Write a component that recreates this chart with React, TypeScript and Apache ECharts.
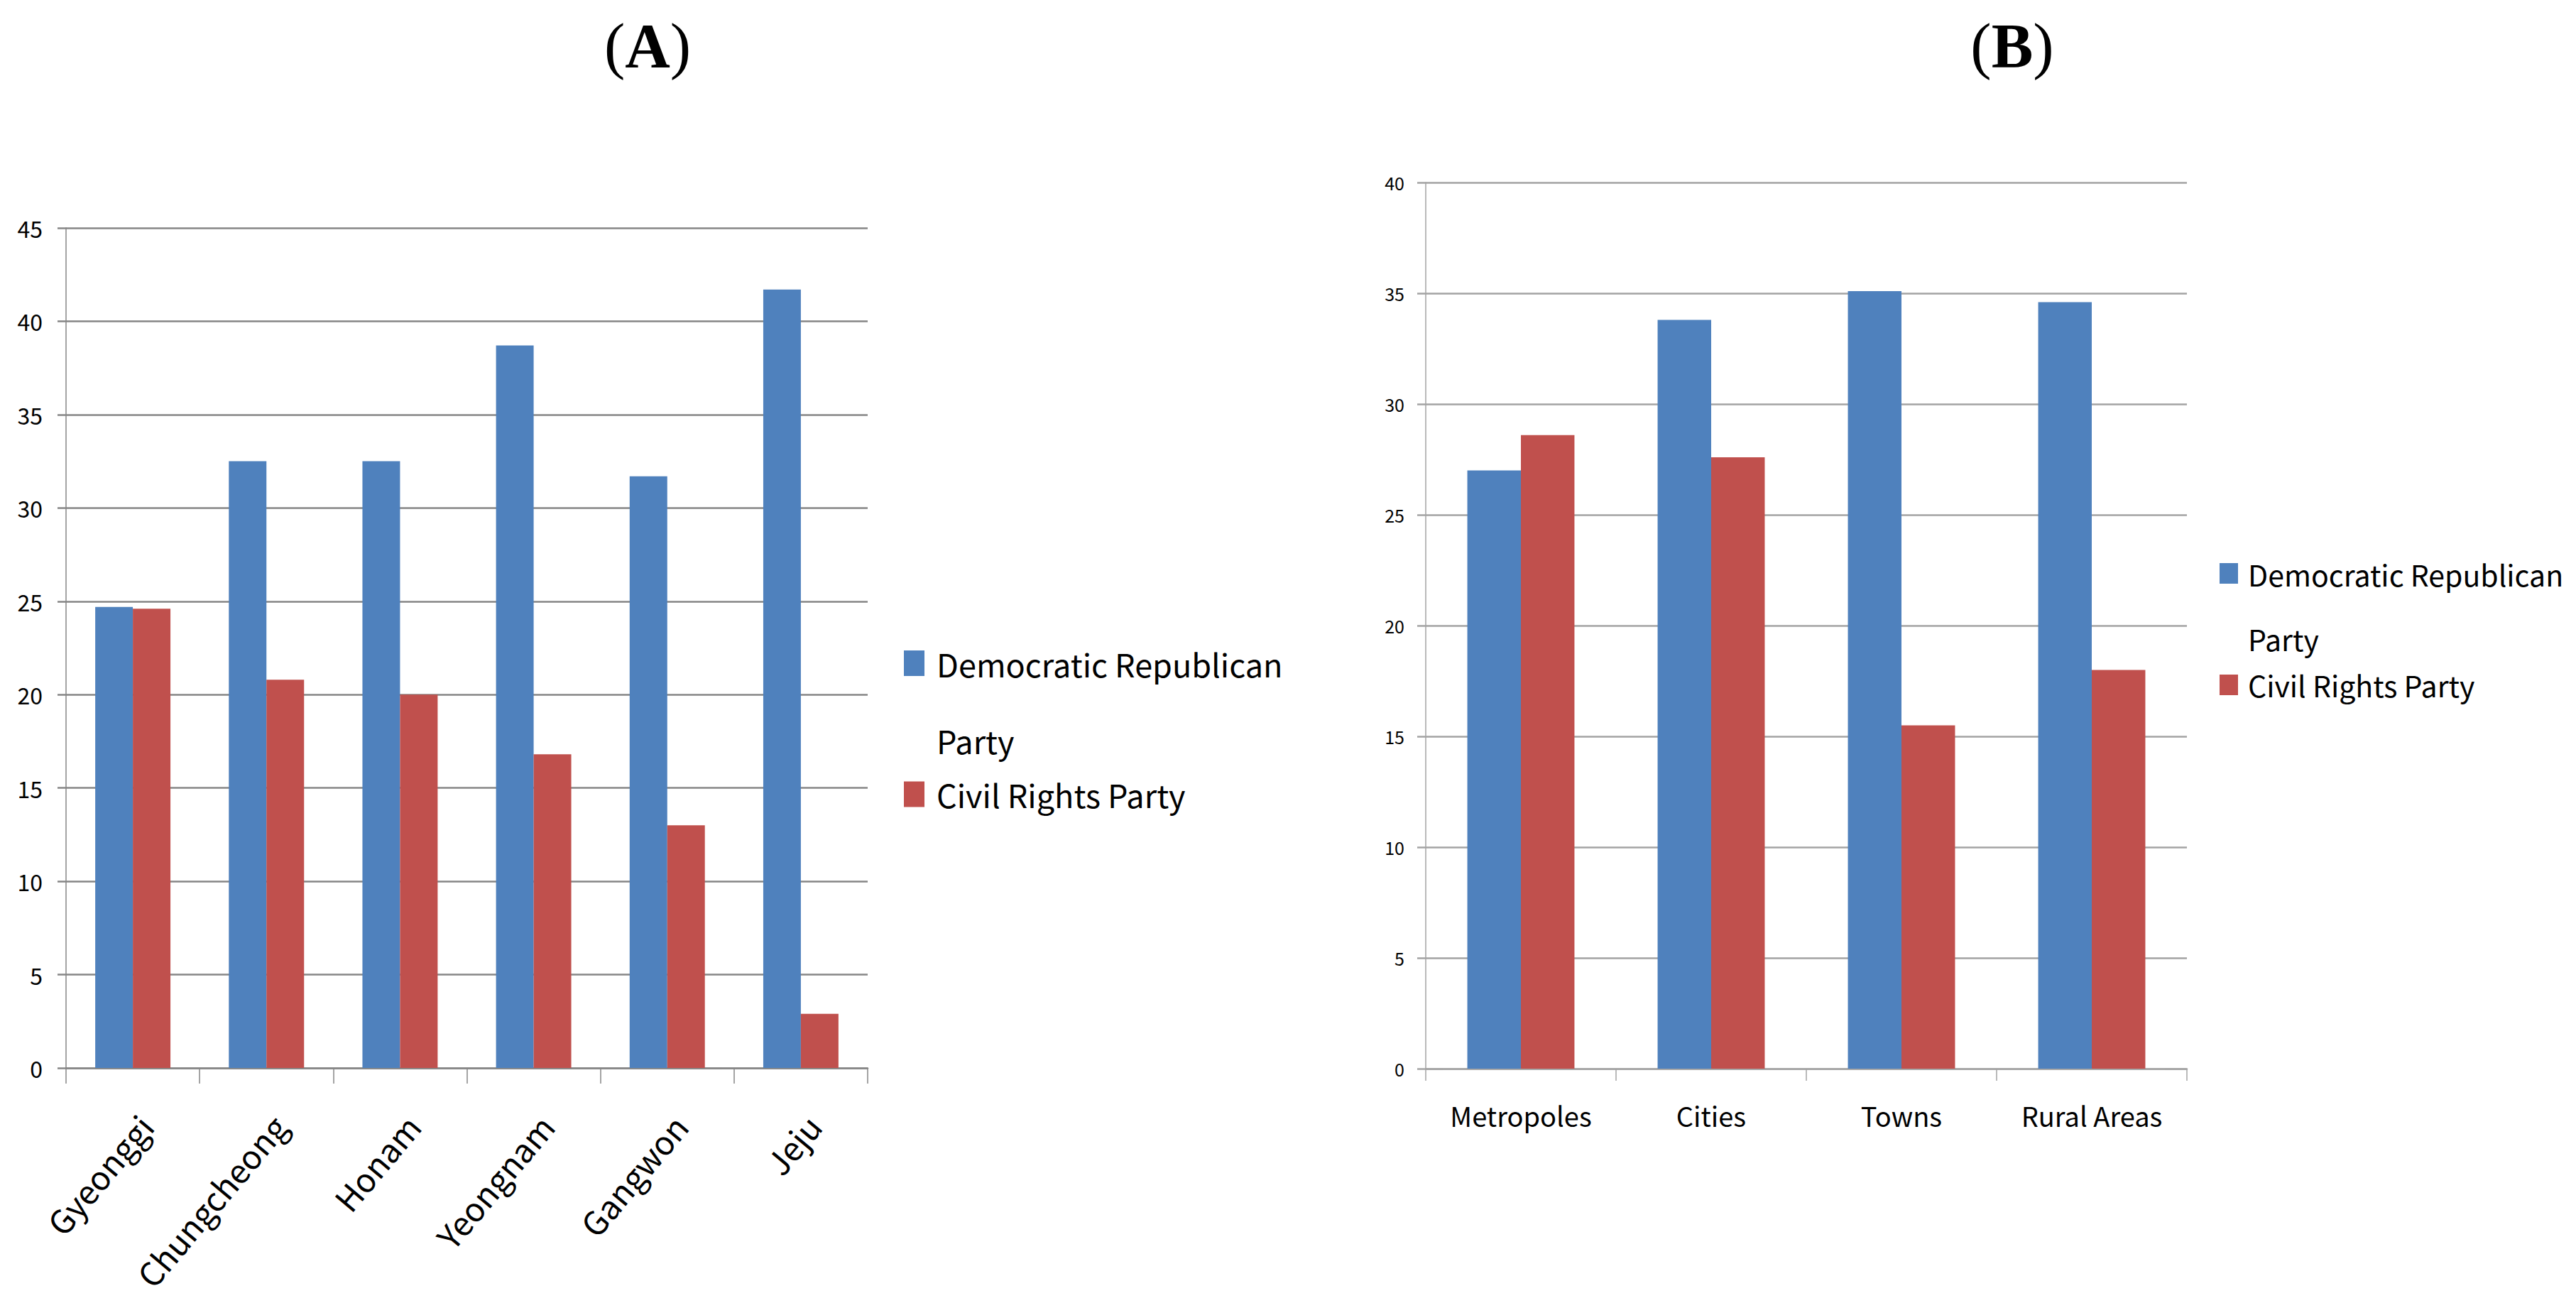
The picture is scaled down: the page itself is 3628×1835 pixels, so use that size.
import React, { useEffect, useRef } from 'react';
import * as echarts from 'echarts';

const DRP = 'Democratic Republican Party';
const CRP = 'Civil Rights Party';
const SERIES_NAMES = [DRP, CRP];

const REGIONS = ['Gyeonggi', 'Chungcheong', 'Honam', 'Yeongnam', 'Gangwon', 'Jeju'];
const REGION_DRP = [24.7, 32.5, 32.5, 38.7, 31.7, 41.7];
const REGION_CRP = [24.6, 20.8, 20.0, 16.8, 13.0, 2.9];

const AREAS = ['Metropoles', 'Cities', 'Towns', 'Rural Areas'];
const AREA_DRP = [27.0, 33.8, 35.1, 34.6];
const AREA_CRP = [28.6, 27.6, 15.5, 18.0];

const Y_A = { min: 0, max: 45, interval: 5 };
const Y_B = { min: 0, max: 40, interval: 5 };

const BLUE = '#4F81BD';
const RED = '#C0504D';
const FONT = '"Noto Sans CJK KR", "Noto Sans", sans-serif';
const SERIF = '"Liberation Serif", "DejaVu Serif", serif';

// A blank first line keeps the marker level with the first text line.
function legendFormatter(name: string) {
  return name === DRP ? ' \nDemocratic Republican\nParty' : name;
}

export default function App() {
  const ref = useRef<HTMLDivElement>(null);
  useEffect(() => {
    if (!ref.current) return;
    const chart = echarts.init(ref.current, null, { renderer: 'svg' });
    const gridA = '#868686';
    const gridB = '#a3a3a3';
    chart.setOption({
      animation: false,
      backgroundColor: '#ffffff',
      graphic: [
        {
          type: 'text', x: 912, y: 64,
          style: {
            text: '{p|(}{b|A}{p|)}', fill: '#000', align: 'center', verticalAlign: 'middle',
            rich: {
              p: { fontFamily: SERIF, fontSize: 88, fontWeight: 'normal', fill: '#000' },
              b: { fontFamily: SERIF, fontSize: 88, fontWeight: 'bold', fill: '#000' }
            }
          }
        },
        {
          type: 'text', x: 2834, y: 64,
          style: {
            text: '{p|(}{b|B}{p|)}', fill: '#000', align: 'center', verticalAlign: 'middle',
            rich: {
              p: { fontFamily: SERIF, fontSize: 88, fontWeight: 'normal', fill: '#000' },
              b: { fontFamily: SERIF, fontSize: 88, fontWeight: 'bold', fill: '#000' }
            }
          }
        }
      ],
      legend: [
        {
          orient: 'vertical', left: 1273, top: 772, padding: 0, itemGap: 0,
          itemWidth: 29, itemHeight: 36, icon: 'rect', selectedMode: false,
          formatter: legendFormatter,
          textStyle: { fontFamily: FONT, fontSize: 45, color: '#000', lineHeight: 108, padding: [0, 0, 0, 12] },
          data: [
            { name: DRP },
            { name: CRP, textStyle: { fontFamily: FONT, fontSize: 45, color: '#000', lineHeight: 44, padding: [0, 0, 0, 12] } }
          ]
        },
        {
          orient: 'vertical', left: 3126, top: 671, padding: 0, itemGap: 0,
          itemWidth: 26, itemHeight: 29, icon: 'rect', selectedMode: false,
          formatter: legendFormatter,
          textStyle: { fontFamily: FONT, fontSize: 41, color: '#000', lineHeight: 91, padding: [0, 0, 0, 9] },
          data: [
            { name: DRP },
            { name: CRP, textStyle: { fontFamily: FONT, fontSize: 41, color: '#000', lineHeight: 37, padding: [0, 0, 0, 9] } }
          ]
        }
      ],
      grid: [
        { left: 93, top: 321, width: 1129, height: 1183, outerBoundsMode: 'none', containLabel: false },
        { left: 2008, top: 257, width: 1072, height: 1248, outerBoundsMode: 'none', containLabel: false }
      ],
      xAxis: [
        {
          type: 'category', gridIndex: 0, data: REGIONS,
          axisLine: { show: true, lineStyle: { color: gridA, width: 2.5 } },
          axisTick: { show: true, length: 22, lineStyle: { color: gridA, width: 1.5 } },
          axisLabel: {
            interval: 0, rotate: 50, margin: 58, verticalAlign: 'top',
            fontFamily: FONT, fontSize: 46, color: '#000'
          },
          splitLine: { show: false }
        },
        {
          type: 'category', gridIndex: 1, data: AREAS,
          axisLine: { show: true, lineStyle: { color: gridB, width: 2.5 } },
          axisTick: { show: true, length: 17, lineStyle: { color: gridB, width: 1.5 } },
          axisLabel: { interval: 0, margin: 46, fontFamily: FONT, fontSize: 38, color: '#000' },
          splitLine: { show: false }
        }
      ],
      yAxis: [
        {
          type: 'value', gridIndex: 0, min: Y_A.min, max: Y_A.max, interval: Y_A.interval,
          axisLine: { show: true, lineStyle: { color: gridA, width: 1.5 } },
          axisTick: { show: true, length: 12, lineStyle: { color: gridA, width: 2.5 } },
          splitLine: { show: true, lineStyle: { color: gridA, width: 2.5 } },
          axisLabel: { margin: 33, fontFamily: FONT, fontSize: 32, color: '#000' }
        },
        {
          type: 'value', gridIndex: 1, min: Y_B.min, max: Y_B.max, interval: Y_B.interval,
          axisLine: { show: true, lineStyle: { color: gridB, width: 1.5 } },
          axisTick: { show: true, length: 12, lineStyle: { color: gridB, width: 2.5 } },
          splitLine: { show: true, lineStyle: { color: gridB, width: 2.5 } },
          axisLabel: { margin: 30, fontFamily: FONT, fontSize: 25, color: '#000' }
        }
      ],
      series: [
        { name: SERIES_NAMES[0], type: 'bar', xAxisIndex: 0, yAxisIndex: 0, data: REGION_DRP, itemStyle: { color: BLUE }, barGap: '0%', barCategoryGap: '43.7%' },
        { name: SERIES_NAMES[1], type: 'bar', xAxisIndex: 0, yAxisIndex: 0, data: REGION_CRP, itemStyle: { color: RED }, barGap: '0%', barCategoryGap: '43.7%' },
        { name: SERIES_NAMES[0], type: 'bar', xAxisIndex: 1, yAxisIndex: 1, data: AREA_DRP, itemStyle: { color: BLUE }, barGap: '0%', barCategoryGap: '43.7%' },
        { name: SERIES_NAMES[1], type: 'bar', xAxisIndex: 1, yAxisIndex: 1, data: AREA_CRP, itemStyle: { color: RED }, barGap: '0%', barCategoryGap: '43.7%' }
      ]
    });
    return () => chart.dispose();
  }, []);
  return (
    <div
      ref={ref}
      style={{ position: 'absolute', left: 0, top: 0, width: 3628, height: 1835, background: '#fff' }}
    />
  );
}
